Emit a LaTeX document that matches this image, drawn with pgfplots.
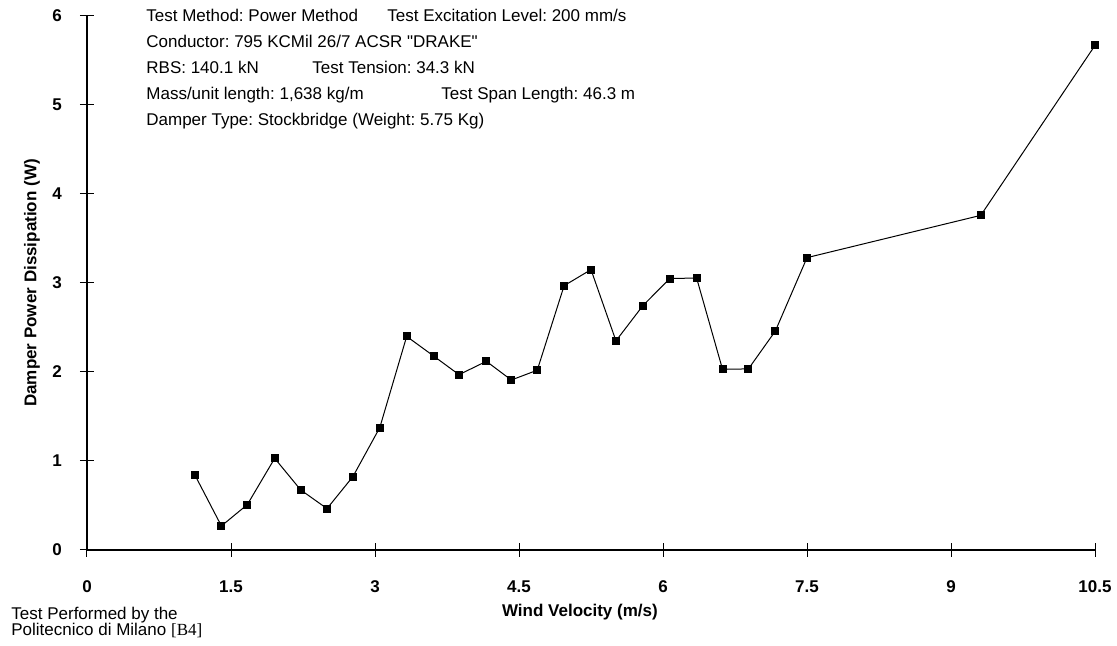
\documentclass[border=0pt]{standalone}
\usepackage{fontspec}
\setmainfont{Liberation Sans}[Ligatures=TeXOff]
\newfontfamily\serifB{Liberation Serif}
\usepackage{pgfplots}
\pgfplotsset{compat=1.18}
\begin{document}
\frenchspacing
\fontsize{8.5pt}{10pt}\selectfont
\begin{tikzpicture}
\path[use as bounding box] (-43.5pt,-48pt) rectangle (515pt,275pt);
\begin{axis}[
  at={(0,0)}, anchor=south west,
  scale only axis, width=504pt, height=267pt,
  xmin=0, xmax=10.5, ymin=0, ymax=6,
  axis lines*=left,
  axis line style={line width=0.65pt},
  xtick={0,1.5,3,4.5,6,7.5,9,10.5},
  xticklabels={0,1.5,3,4.5,6,7.5,9,10.5},
  ytick={0,1,2,3,4,5,6},
  tick align=center, major tick length=7pt,
  tick style={line width=0.5pt, black},
  /pgf/number format/assume math mode=true,
  ticklabel style={font=\fontsize{8.5pt}{10pt}\selectfont\bfseries},
  xticklabel shift=9pt,
  yticklabel shift=6pt,
  xlabel={Wind Velocity (m/s)},
  ylabel={Damper Power Dissipation (W)},
  label style={font=\fontsize{8.5pt}{10pt}\selectfont\bfseries},
  xlabel style={at={(axis description cs:0.489,-0.1161)}, anchor=center},
  ylabel style={at={(axis description cs:-0.0546,0.5)}, anchor=center},
  clip=false,
]
\addplot[black, line width=0.5pt, mark=square*, mark size=1.75pt, mark options={solid, fill=black}] coordinates {
(1.125,0.84) (1.40,0.27) (1.67,0.51) (1.955,1.03) (2.226,0.675) (2.50,0.465)
(2.77,0.825) (3.05,1.376) (3.33,2.40) (3.61,2.18) (3.875,1.97) (4.16,2.12)
(4.42,1.91) (4.69,2.02) (4.97,2.97) (5.25,3.15) (5.51,2.35) (5.79,2.745)
(6.07,3.05) (6.35,3.056) (6.62,2.03) (6.89,2.035) (7.17,2.46) (7.50,3.285)
(9.31,3.76) (10.5,5.67)
};
\end{axis}
\begin{scope}[every node/.style={inner sep=0pt, font=\fontsize{8.5pt}{10pt}\selectfont}]
\node[anchor=mid west] at (29.5pt,266.6pt) {Test Method: Power Method};
\node[anchor=mid west] at (150pt,266.6pt) {Test Excitation Level: 200 mm/s};
\node[anchor=mid west] at (29.5pt,253.5pt) {Conductor: 795 KCMil 26/7 ACSR "DRAKE"};
\node[anchor=mid west] at (29.5pt,240.5pt) {RBS: 140.1 kN};
\node[anchor=mid west] at (112.5pt,240.5pt) {Test Tension: 34.3 kN};
\node[anchor=mid west] at (29.5pt,227.7pt) {Mass/unit length: 1,638 kg/m};
\node[anchor=mid west] at (177pt,227.7pt) {Test Span Length: 46.3 m};
\node[anchor=mid west] at (29.5pt,214.6pt) {Damper Type: Stockbridge (Weight: 5.75 Kg)};
\node[anchor=base west] at (-38pt,-34.6pt) {Test Performed by the};
\node[anchor=base west] at (-38pt,-42.5pt) {Politecnico di Milano {\serifB[B4]}};
\end{scope}
\end{tikzpicture}
\end{document}
